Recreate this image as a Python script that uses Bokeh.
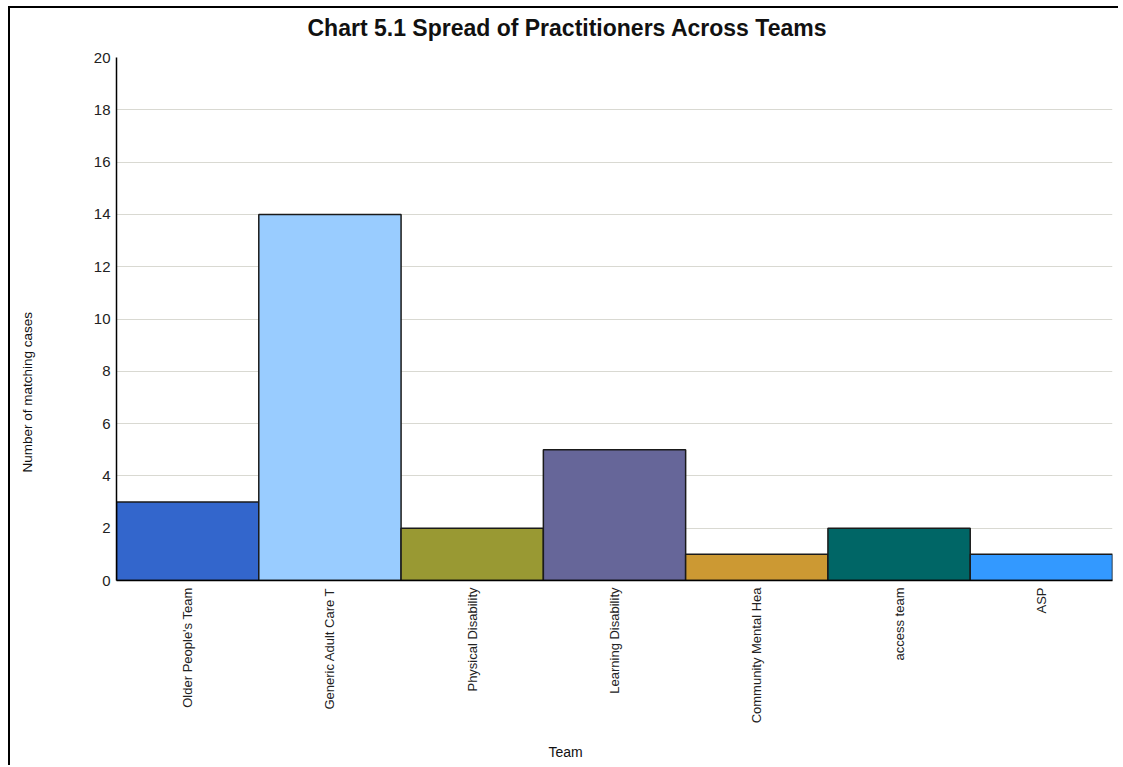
from bokeh.plotting import figure
from bokeh.models import FactorRange, Range1d, FixedTicker, Title, ColumnDataSource
from bokeh.embed import file_html
from bokeh.resources import INLINE
from math import pi

teams = ["Older People's Team", "Generic Adult Care T", "Physical Disability",
         "Learning Disability", "Community Mental Hea", "access team", "ASP"]
counts = [3, 14, 2, 5, 1, 2, 1]
colors = ["#3366CC", "#99CCFF", "#999933", "#666699", "#CC9933", "#006666", "#3399FF"]
y_ticks = [0, 2, 4, 6, 8, 10, 12, 14, 16, 18, 20]

title_text = "Chart 5.1 Spread of Practitioners Across Teams"
x_title = "Team"
y_title = "Number of matching cases"

FONT = "Liberation Sans"

src = ColumnDataSource(dict(team=teams, count=counts, color=colors))

p = figure(width=1110, height=759, output_backend="svg", toolbar_location=None,
           x_range=FactorRange(factors=teams, range_padding=0),
           y_range=Range1d(0, 20),
           min_border_left=106, min_border_right=8, min_border_top=49,
           min_border_bottom=187)
p.styles = {"border-left": "2px solid #000000", "border-top": "2px solid #000000",
            "margin-left": "8px", "margin-top": "6px"}

p.vbar(x="team", top="count", width=1.0, source=src, fill_color="color",
       line_color="#1a1a1a", line_width=1.5)

p.outline_line_color = None
p.background_fill_color = "white"
p.border_fill_color = "white"

p.xgrid.grid_line_color = None
p.ygrid.grid_line_color = "#d9d9d2"
p.ygrid.grid_line_width = 1
p.yaxis.ticker = FixedTicker(ticks=y_ticks)

for ax in (p.xaxis[0], p.yaxis[0]):
    ax.axis_line_color = "black"
    ax.axis_line_width = 1.5
    ax.major_tick_line_color = None
    ax.minor_tick_line_color = None
    ax.major_tick_out = 0
    ax.major_tick_in = 0
    ax.major_label_text_font = FONT
    ax.major_label_text_color = "#222222"

p.yaxis.major_label_text_font_size = "15px"
p.yaxis.major_label_standoff = 6
p.xaxis.major_label_text_font_size = "13px"
p.xaxis.major_label_orientation = pi / 2
p.xaxis.major_label_standoff = 7


def spacer(size):
    # tiny white panel used only to push a title away from the plot frame
    return Title(text=".", text_font_size="1px", text_color="white", standoff=size)


# above: spacer next to the frame, then the chart title
p.add_layout(spacer(14), "above")
p.add_layout(Title(text=title_text, text_font=FONT, text_font_size="23px",
                   text_font_style="bold", text_color="#111111",
                   align="left", offset=191, standoff=0,
                   vertical_align="bottom"), "above")

# left: y axis, spacer, y title
p.add_layout(spacer(51), "left")
p.add_layout(Title(text=y_title, text_font=FONT, text_font_size="13.5px",
                   text_font_style="normal", text_color="#111111",
                   align="left", offset=108, standoff=0,
                   vertical_align="top"), "left")

# below: x axis, spacer, x title
p.add_layout(spacer(14), "below")
p.add_layout(Title(text=x_title, text_font=FONT, text_font_size="14px",
                   text_font_style="normal", text_color="#111111",
                   align="left", offset=432, standoff=0,
                   vertical_align="top"), "below")

open("out.html", "w").write(file_html(p, INLINE))
